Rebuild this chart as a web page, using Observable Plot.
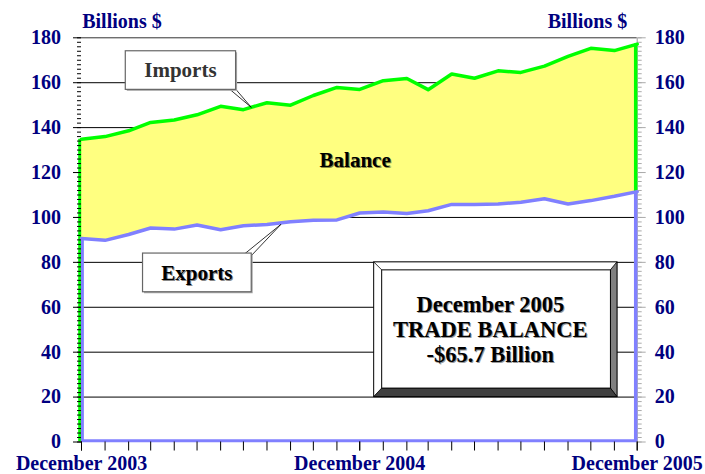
<!DOCTYPE html>
<html><head><meta charset="utf-8">
<script src="https://cdn.jsdelivr.net/npm/d3@7"></script>
<script src="https://cdn.jsdelivr.net/npm/@observablehq/plot@0.6"></script>
<style>
body{margin:0;background:#fff;}
#chart{width:705px;height:474px;overflow:hidden;}
#chart svg, #chart svg text{font-family:'Liberation Serif','Times New Roman',serif !important;}
</style></head><body><div id="chart"></div>
<script>
const months = ["2003-12","2004-01","2004-02","2004-03","2004-04","2004-05","2004-06","2004-07","2004-08","2004-09","2004-10","2004-11","2004-12","2005-01","2005-02","2005-03","2005-04","2005-05","2005-06","2005-07","2005-08","2005-09","2005-10","2005-11","2005-12"];
const imports = [134.8,136.0,138.6,142.3,143.4,145.7,149.5,148.0,151.1,150.0,154.3,157.9,157.0,160.9,161.9,156.9,163.9,162.0,165.3,164.6,167.4,171.7,175.3,174.3,177.2];
const exports = [90.6,89.8,92.4,95.3,94.8,96.6,94.5,96.3,96.9,98.1,98.7,98.9,102.0,102.4,101.8,103.0,105.8,105.8,106.0,106.8,108.3,106.0,107.5,109.4,111.5];
const yTicks = [0,20,40,60,80,100,120,140,160,180];
const yMinorStep = 2;
const dateTickMonths = ["2003-12","2004-12","2005-12"];
const dateTickLabels = ["December 2003","December 2004","December 2005"];
const axisTitle = "Billions $";
const seriesLabels = {imports:"Imports", exports:"Exports", balance:"Balance"};
const balanceLines = ["December 2005","TRADE BALANCE","-$65.7 Billion"];

const utc = s => new Date((s.length === 7 ? s + "-01" : s) + "T00:00:00Z");
const data = months.map((m, i) => ({date: utc(m), imports: imports[i], exports: exports[i]}));
const first = data[0], last = data[data.length - 1];
const minor = d3.range(0, 180 + 1e-9, yMinorStep);
const dateTicks = dateTickMonths.map(utc);
const F = "Liberation Serif";
const NAVY = "#000080";
const none = () => "";

const plot = Plot.plot({
  width: 705, height: 474,
  marginLeft: 81, marginRight: 68.3, marginTop: 37.3, marginBottom: 32.5,
  x: {type: "utc", domain: [first.date, last.date], axis: null, label: null},
  y: {domain: [0, 180], axis: null, label: null},
  style: "font-family: 'Liberation Serif', serif; background: white; overflow: visible;",
  marks: [
    Plot.ruleY(yTicks.filter(v => v > 0 && v < 180), {stroke: "#000", strokeWidth: 1}),
    Plot.ruleY([180], {stroke: "#333", strokeWidth: 1}),
    Plot.ruleX([last.date], {stroke: "#999"}),
    Plot.areaY(data, {x: "date", y1: "exports", y2: "imports", fill: "#ffff80"}),
    Plot.ruleY([0], {stroke: "#8080ff", strokeWidth: 3, dy: -1.3}),
    Plot.ruleX([first], {x: "date", y1: 0, y2: "imports", stroke: "#00ff00", strokeWidth: 3, dx: -1.8}),
    Plot.ruleX([first], {x: "date", y1: 0, y2: "exports", stroke: "#8080ff", strokeWidth: 3, dx: 0.9}),
    Plot.ruleX([last], {x: "date", y1: "exports", y2: "imports", stroke: "#00ff00", strokeWidth: 3.5, dx: -1.5}),
    Plot.ruleX([last], {x: "date", y1: 0, y2: "exports", stroke: "#8080ff", strokeWidth: 3.5, dx: -1.5}),
    Plot.lineY(data, {x: "date", y: "imports", stroke: "#00ff00", strokeWidth: 3.5}),
    Plot.lineY(data, {x: "date", y: "exports", stroke: "#8080ff", strokeWidth: 3.5}),
    Plot.axisY({ticks: minor, anchor: "left", tickSize: 4, tickFormat: none, stroke: "#000", label: null}),
    Plot.axisY({ticks: yTicks, anchor: "left", tickSize: 8, tickPadding: 12.5, tickFormat: d => String(d), stroke: "#000", fill: NAVY, fontSize: 20, fontWeight: "bold", fontFamily: F, label: null}),
    Plot.axisY({ticks: minor, anchor: "right", tickSize: 4, tickFormat: none, stroke: "#aaa", label: null}),
    Plot.axisY({ticks: yTicks, anchor: "right", tickSize: 8, tickPadding: 9.5, tickFormat: d => String(d), stroke: "#aaa", fill: NAVY, fontSize: 20, fontWeight: "bold", fontFamily: F, label: null}),
    Plot.axisX({ticks: data.map(d => d.date), anchor: "bottom", tickSize: 9, tickFormat: none, stroke: "#000", label: null}),
    Plot.axisX({ticks: dateTicks, anchor: "bottom", tickSize: 9, tickPadding: 4.6, stroke: "#000", fill: NAVY, fontSize: 20, fontWeight: "bold", fontFamily: F, label: null,
      tickFormat: d => dateTickLabels[dateTicks.findIndex(t => +t === +d)]}),
    Plot.text([axisTitle], {frameAnchor: "top-left", text: d => d, textAnchor: "start", lineAnchor: "middle", dx: 0.7, dy: -15.8, fontSize: 20, fontWeight: "bold", fill: NAVY, fontFamily: F}),
    Plot.text([axisTitle], {frameAnchor: "top-right", text: d => d, textAnchor: "end", lineAnchor: "middle", dx: -10, dy: -15.8, fontSize: 20, fontWeight: "bold", fill: NAVY, fontFamily: F}),
    Plot.text([{date: utc("2004-11-25"), v: 125.6}], {x: "date", y: "v", text: () => seriesLabels.balance, dx: 1, dy: 1, fontSize: 21, fontWeight: "bold", fill: "#8a8a40", fontFamily: F}),
    Plot.text([{date: utc("2004-11-25"), v: 125.6}], {x: "date", y: "v", text: () => seriesLabels.balance, fontSize: 21, fontWeight: "bold", fill: "#000", fontFamily: F})
  ]
});
document.getElementById("chart").appendChild(plot);

// annotations anchored through the plot's scales
const sx = plot.scale("x"), sy = plot.scale("y");
const at = (iso, v) => [sx.apply(utc(iso)), sy.apply(v)];
const svg = d3.select(plot);
const g = svg.append("g").attr("font-family", F).attr("font-weight", "bold");
const poly = pts => pts.map(p => p.join(",")).join(" ");

function callout(tip, box, basePts, label, color, shadow) {
  g.append("polygon").attr("points", poly([...basePts, tip]))
    .attr("fill", "#fff").attr("stroke", "#000").attr("stroke-width", 0.8);
  g.append("rect").attr("x", box.x + 1.5).attr("y", box.y + 1.5).attr("width", box.w).attr("height", box.h).attr("fill", "#aaa");
  g.append("rect").attr("x", box.x).attr("y", box.y).attr("width", box.w).attr("height", box.h)
    .attr("fill", "#fff").attr("stroke", "#666").attr("stroke-width", 1.2);
  const cx = box.x + box.w / 2, cy = box.y + box.h / 2;
  if (shadow) g.append("text").attr("x", cx + 1).attr("y", cy + 1).attr("dy", "0.35em").attr("text-anchor", "middle")
    .attr("font-size", 21).attr("fill", "#888").text(label);
  g.append("text").attr("x", cx).attr("y", cy).attr("dy", "0.35em").attr("text-anchor", "middle")
    .attr("font-size", 21).attr("fill", color).text(label);
}
// Imports callout
{
  const tip = at("2004-07-12", 148.8);
  const box = {x: tip[0] - 126, y: tip[1] - 56.6, w: 110.3, h: 38.6};
  const by = box.y + box.h - 3;
  callout(tip, box, [[tip[0] - 25, by], [tip[0] - 18, by]], seriesLabels.imports, "#333", false);
}
// Exports callout
{
  const tip = at("2004-08-20", 96.7);
  const box = {x: tip[0] - 138.4, y: tip[1] + 28.7, w: 108.7, h: 38.7};
  const by = box.y + 3;
  callout(tip, box, [[tip[0] - 39, by], [tip[0] - 30, by]], seriesLabels.exports, "#000", true);
}
// Trade balance box
{
  const [x1, y1] = at("2004-12-20", 80);
  const [x2, y2] = at("2005-11-05", 20);
  const ix1 = x1 + 8, iy1 = y1 + 8, ix2 = x2 - 6.5, iy2 = y2 - 8.5;
  g.append("rect").attr("x", x1).attr("y", y1).attr("width", x2 - x1).attr("height", y2 - y1).attr("fill", "#fff").attr("stroke", "#000");
  g.append("polygon").attr("points", poly([[x2, y1], [x2, y2], [ix2, iy2], [ix2, iy1]])).attr("fill", "#808080").attr("stroke", "#000").attr("stroke-width", 0.8);
  g.append("polygon").attr("points", poly([[x1, y2], [x2, y2], [ix2, iy2], [ix1, iy2]])).attr("fill", "#404040").attr("stroke", "#000").attr("stroke-width", 0.8);
  g.append("line").attr("x1", x1).attr("y1", y1).attr("x2", ix1).attr("y2", iy1).attr("stroke", "#000").attr("stroke-width", 0.8);
  g.append("rect").attr("x", ix1).attr("y", iy1).attr("width", ix2 - ix1).attr("height", iy2 - iy1).attr("fill", "#fff").attr("stroke", "#000").attr("stroke-width", 1);
  const cx = (x1 + x2) / 2 - 5, cy = (y1 + y2) / 2;
  balanceLines.forEach((t, i) => {
    const y = cy + (i - 1) * 25;
    g.append("text").attr("x", cx + 1).attr("y", y + 1).attr("dy", "0.33em").attr("text-anchor", "middle").attr("font-size", 22.5).attr("fill", "#999").text(t);
    g.append("text").attr("x", cx).attr("y", y).attr("dy", "0.33em").attr("text-anchor", "middle").attr("font-size", 22.5).attr("fill", "#000").text(t);
  });
}
</script></body></html>
